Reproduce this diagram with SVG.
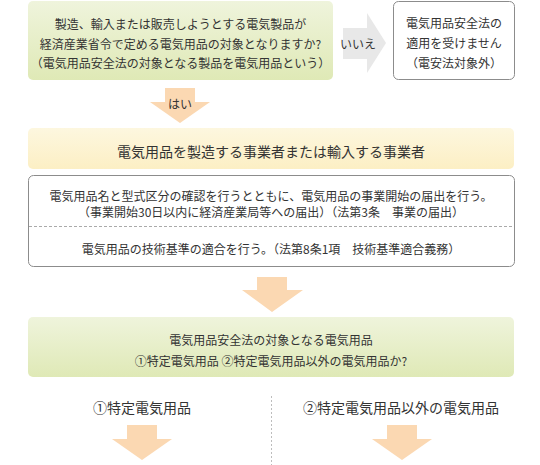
<svg xmlns="http://www.w3.org/2000/svg" width="540" height="465" viewBox="0 0 540 465">
<defs>
<linearGradient id="gGreen" x1="0" y1="0" x2="0" y2="1">
<stop offset="0" stop-color="#eff4dc"/>
<stop offset="1" stop-color="#dfe9b6"/>
</linearGradient>
<linearGradient id="gYellow" x1="0" y1="0" x2="0" y2="1">
<stop offset="0" stop-color="#fdf7df"/>
<stop offset="1" stop-color="#fcefc4"/>
</linearGradient>
<style>
text{font-family:"Noto Sans CJK JP","Noto Sans",sans-serif;fill:#333;text-anchor:middle;dominant-baseline:central}
.t12{font-size:12px}
.t14{font-size:14px}
.arrow{fill:#fbd8b2}
.gray{fill:#e8e8e8}
.box{fill:#fff;stroke:#8c8c8c;stroke-width:1}
</style>
</defs>
<rect width="540" height="465" fill="#fff"/>
<g id="connectors">
<polygon id="arrow-no" class="gray" points="343,28 367,28 367,13 386,43 367,73 367,59 343,59"/>
<text class="t12" x="358" y="43">いいえ</text>
<polygon id="arrow-yes" class="arrow" points="165,88 195,88 195,102 210,102 180,123 150,102 165,102"/>
<text class="t12" x="180" y="103">はい</text>
<polygon class="arrow" points="257,277 287,277 287,290 303,290 272,312 242,290 257,290"/>
<line x1="271.5" y1="396" x2="271.5" y2="465" stroke="#bdbdbd" stroke-width="1" stroke-dasharray="2,2"/>
<polygon class="arrow" points="127,425 157,425 157,439 172,439 142,460 112,439 127,439"/>
<polygon class="arrow" points="387,425 417,425 417,439 432,439 402,460 372,439 387,439"/>
</g>
<g id="question1">
<rect x="28" y="1" width="305" height="79" rx="5" fill="url(#gGreen)"/>
<text class="t12" x="180.5" y="23">製造、輸入または販売しようとする電気製品が</text>
<text class="t12" x="180.5" y="43">経済産業省令で定める電気用品の対象となりますか?</text>
<text class="t12" x="180.5" y="62">（電気用品安全法の対象となる製品を電気用品という）</text>
</g>
<g id="not-applicable">
<rect class="box" x="393.5" y="1.5" width="121" height="78" rx="5"/>
<text class="t12" x="454" y="22">電気用品安全法の</text>
<text class="t12" x="454" y="42">適用を受けません</text>
<text class="t12" x="454" y="62">（電安法対象外）</text>
</g>
<g id="operator">
<rect x="28" y="128" width="486" height="41" rx="5" fill="url(#gYellow)"/>
<text class="t14" x="271" y="151">電気用品を製造する事業者または輸入する事業者</text>
</g>
<g id="duties">
<rect class="box" x="28.5" y="175.5" width="486" height="91" rx="5"/>
<line x1="29" y1="226.5" x2="514" y2="226.5" stroke="#aaa" stroke-width="1" stroke-dasharray="3,2"/>
<text class="t12" x="271" y="195">電気用品名と型式区分の確認を行うとともに、電気用品の事業開始の届出を行う。</text>
<text class="t12" x="271" y="211">（事業開始30日以内に経済産業局等への届出）（法第3条　事業の届出）</text>
<text class="t12" x="271" y="248">電気用品の技術基準の適合を行う。（法第8条1項　技術基準適合義務）</text>
</g>
<g id="question2">
<rect x="28" y="317" width="486" height="60" rx="5" fill="url(#gGreen)"/>
<text class="t12" x="271" y="339">電気用品安全法の対象となる電気用品</text>
<text class="t12" x="271" y="360">①特定電気用品 ②特定電気用品以外の電気用品か?</text>
</g>
<g id="specified">
<text class="t14" x="142" y="407">①特定電気用品</text>
</g>
<g id="non-specified">
<text class="t14" x="401" y="407">②特定電気用品以外の電気用品</text>
</g>
</svg>
